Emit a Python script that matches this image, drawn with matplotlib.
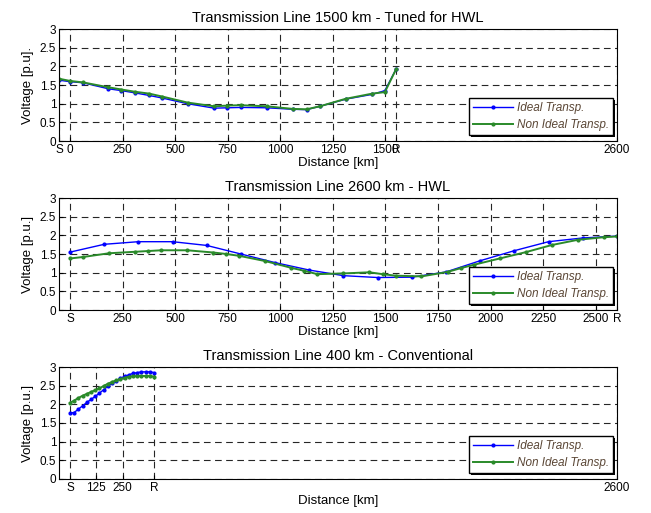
import matplotlib
matplotlib.use("Agg")
import matplotlib.pyplot as plt
from matplotlib.patches import Shadow

plt.rcParams['font.family'] = ['Liberation Sans', 'DejaVu Sans']

XMIN, XMAX = -52, 2600
BLUE = "#0000ff"
GREEN = "#2a8a2a"

titles = ["Transmission Line 1500 km - Tuned for HWL",
          "Transmission Line 2600 km - HWL",
          "Transmission Line 400 km - Conventional"]
ylabels = ["Voltage [p.u].", "Voltage [p.u.]", "Voltage [p.u.]"]

# 1500 km tuned line
p1_km = [-52, 0, 63, 182, 245, 309, 377, 440, 559, 686, 749, 813, 935, 1061, 1125, 1188, 1310, 1437, 1497, 1550]
p1_ideal = [1.63, 1.59, 1.56, 1.40, 1.35, 1.29, 1.22, 1.15, 1.00, 0.88, 0.89, 0.90, 0.89, 0.85, 0.84, 0.93, 1.12, 1.25, 1.35, 1.92]
p1_nonideal = [1.67, 1.61, 1.57, 1.44, 1.38, 1.32, 1.27, 1.19, 1.03, 0.93, 0.95, 0.96, 0.93, 0.86, 0.85, 0.93, 1.13, 1.27, 1.31, 1.92]
p1_ticks = [-52, 0, 250, 500, 750, 1000, 1250, 1500, 1550, 2600]
p1_labels = ["S", "0", "250", "500", "750", "1000", "1250", "1500", "R", "2600"]

# 2600 km line
p2_ideal_km = [0, 163, 325, 488, 650, 813, 975, 1138, 1300, 1463, 1625, 1788, 1950, 2113, 2275, 2438, 2600]
p2_ideal = [1.55, 1.76, 1.83, 1.83, 1.73, 1.50, 1.27, 1.07, 0.92, 0.87, 0.88, 1.02, 1.32, 1.59, 1.83, 1.93, 1.98]
p2_non_km = [0, 62, 186, 310, 372, 434, 558, 682, 744, 806, 929, 1052, 1114, 1176, 1300, 1424, 1486, 1548,
             1671, 1795, 1857, 1919, 2043, 2167, 2290, 2414, 2538, 2600]
p2_non = [1.38, 1.42, 1.52, 1.56, 1.58, 1.60, 1.60, 1.54, 1.50, 1.45, 1.31, 1.13, 1.05, 0.96, 0.98, 1.01, 0.96, 0.92,
          0.90, 1.02, 1.12, 1.21, 1.38, 1.55, 1.74, 1.88, 1.95, 1.97]
p2_ticks = [0, 250, 500, 750, 1000, 1250, 1500, 1750, 2000, 2250, 2500, 2600]
p2_labels = ["S", "250", "500", "750", "1000", "1250", "1500", "1750", "2000", "2250", "2500", "R"]

# 400 km conventional line
p3_km = [0, 20, 40, 60, 80, 100, 120, 140, 160, 180, 200, 220, 240, 260, 280, 300, 320, 340, 360, 380, 400]
p3_ideal = [1.77, 1.78, 1.87, 1.96, 2.05, 2.13, 2.21, 2.30, 2.39, 2.48, 2.56, 2.63, 2.70, 2.75, 2.79, 2.83,
            2.85, 2.87, 2.87, 2.87, 2.85]
p3_non = [2.04, 2.10, 2.17, 2.23, 2.28, 2.33, 2.38, 2.43, 2.49, 2.55, 2.60, 2.64, 2.68, 2.71, 2.74, 2.75,
          2.76, 2.76, 2.76, 2.76, 2.74]
p3_ticks = [0, 125, 250, 400, 2600]
p3_labels = ["S", "125", "250", "R", "2600"]

series = [
    ((p1_km, p1_ideal), (p1_km, p1_nonideal), p1_ticks, p1_labels),
    ((p2_ideal_km, p2_ideal), (p2_non_km, p2_non), p2_ticks, p2_labels),
    ((p3_km, p3_ideal), (p3_km, p3_non), p3_ticks, p3_labels),
]

fig = plt.figure(figsize=(6.51, 5.13), dpi=100)
bottoms = [0.7251, 0.3957, 0.0663]

for i, (ideal, nonideal, ticks, labels) in enumerate(series):
    ax = fig.add_axes([0.0906, bottoms[i], 0.857, 0.2183])
    ax.plot(ideal[0], ideal[1], "-", marker=".", ms=4, lw=1, c=BLUE, label="Ideal Transp.")
    ax.plot(nonideal[0], nonideal[1], "-", marker=".", ms=4, lw=1.4, c=GREEN, label="Non Ideal Transp.")
    ax.set_xlim(XMIN, XMAX)
    ax.set_ylim(0, 3)
    ax.set_yticks([0, 0.5, 1, 1.5, 2, 2.5, 3])
    ax.set_yticklabels(["0", "0.5", "1", "1.5", "2", "2.5", "3"])
    ax.set_xticks(ticks)
    ax.set_xticklabels(labels)
    ax.tick_params(direction="in", length=3, labelsize=8.5, pad=2)
    ax.grid(True, color="0.15", linestyle=(0, (6, 4)), linewidth=0.8)
    ax.set_title(titles[i], fontsize=10.5, pad=5)
    ax.set_xlabel("Distance [km]", fontsize=9.5, labelpad=1)
    ax.set_ylabel(ylabels[i], fontsize=9.5, labelpad=4)
    leg = ax.legend(loc="lower right", bbox_to_anchor=(0.993, 0.054), borderaxespad=0,
                    fancybox=False, edgecolor="black", framealpha=1, fontsize=8.5,
                    handlelength=3.4, handletextpad=0.3, borderpad=0.35, labelspacing=0.4)
    leg.get_frame().set_linewidth(1.0)
    for t in leg.get_texts():
        t.set_style("italic")
        t.set_color("#5a4635")
    # thin matlab-like drop shadow behind the legend box
    shadow = Shadow(leg.legendPatch, 1.3, -1.3, fc="black", ec="none", alpha=1, zorder=4.9)
    ax.add_artist(shadow)

fig.canvas.draw()
fig.savefig("out.png", dpi=100)
